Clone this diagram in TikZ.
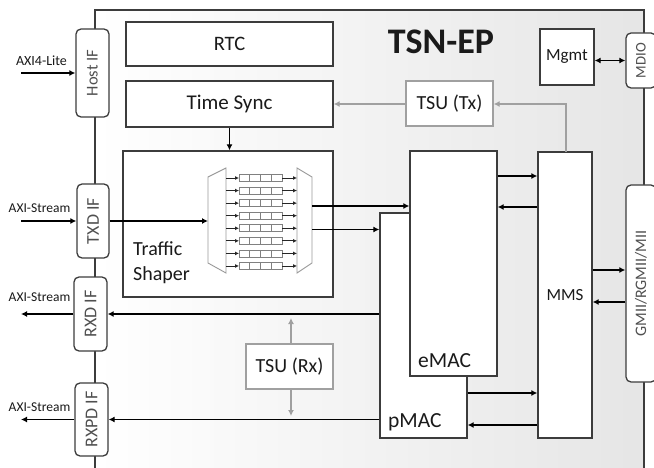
\documentclass[tikz,border=0pt]{standalone}
\usepackage{fontspec}
\setmainfont{Carlito}
\usetikzlibrary{arrows.meta}
\definecolor{boxc}{HTML}{3C3C3C}
\definecolor{grayc}{HTML}{A0A0A0}
\definecolor{ifc}{HTML}{505050}
\definecolor{txtc}{HTML}{1A1A1A}
\tikzset{
  fs/.style={font=\fontsize{#1}{#1}\selectfont},
  box/.style={draw=boxc, line width=1.3pt, fill=white, inner sep=0pt, text=txtc},
  ifbox/.style={box, rounded corners=5pt, text=ifc},
  graybox/.style={draw=grayc, line width=1.3pt, fill=white, inner sep=0pt, text=txtc},
  conn/.style={draw=black, line width=1.7pt, -{Latex[length=6pt,width=6pt]}},
  dconn/.style={draw=black, line width=1.7pt, {Latex[length=6pt,width=6pt]}-{Latex[length=6pt,width=6pt]}},
  gconn/.style={draw=grayc, line width=1.3pt, -{Latex[length=6pt,width=6pt]}},
  qarrow/.style={draw=black!85, line width=0.8pt, -{Latex[length=4pt,width=4pt]}},
  qbox/.style={draw=black!50, line width=0.8pt},
  mux/.style={draw=black!40, line width=0.9pt, fill=white},
  lbl/.style={inner sep=0pt, text=txtc}
}
\begin{document}
\begin{tikzpicture}[x=1pt,y=-1pt]
\useasboundingbox (0,0) rectangle (654,468);
\clip (0,0) rectangle (654,468);
\fill[white] (0,0) rectangle (654,468);
% frame
\fill[left color=white, right color=black!10] (95,10) rectangle (644,468);
\draw[draw=boxc, line width=1.3pt] (95,470) -- (95,10) -- (644,10) -- (644,470);

\node[lbl, font=\fontsize{36}{36}\selectfont\bfseries] (title) at (441,42) {TSN-EP};

% interface boxes
\node[ifbox, minimum width=33pt, minimum height=88pt, fs=16.5] (hostif) at (92.5,73) {\rotatebox{90}{Host IF}};
\node[ifbox, minimum width=32pt, minimum height=74pt, fs=18] (txdif) at (93,221) {\rotatebox{90}{TXD IF}};
\node[ifbox, minimum width=33pt, minimum height=74pt, fs=18] (rxdif) at (90.5,314) {\rotatebox{90}{RXD IF}};
\node[ifbox, minimum width=33pt, minimum height=73pt, fs=18] (rxpdif) at (91.5,419.5) {\rotatebox{90}{RXPD IF}};
\node[ifbox, minimum width=30pt, minimum height=55pt, fs=14.7] (mdio) at (641,60.5) {\rotatebox{90}{MDIO}};
\node[ifbox, minimum width=30pt, minimum height=197pt, fs=16] (gmii) at (641,283.5) {\rotatebox{90}{GMII/RGMII/MII}};

% blocks
\node[box, minimum width=207pt, minimum height=44pt, fs=20.5] (rtc) at (229.5,44) {RTC};
\node[box, minimum width=207pt, minimum height=46pt, fs=21] (tsync) at (229.5,104) {Time Sync};
\node[graybox, minimum width=87pt, minimum height=45pt, fs=20] (tsutx) at (449.5,103.5) {TSU (Tx)};
\node[box, minimum width=54pt, minimum height=56pt, fs=17] (mgmt) at (567,57) {Mgmt};
\node[box, minimum width=210pt, minimum height=146pt] (shaper) at (228,224) {};
\node[lbl, anchor=base west, fs=20] (tsa) at (133,255) {Traffic};
\node[lbl, anchor=base west, fs=20] (tsb) at (133,280) {Shaper};
\node[box, minimum width=87pt, minimum height=225pt] (pmac) at (423.5,325.5) {};
\node[box, minimum width=87pt, minimum height=225pt] (emac) at (453.5,263.5) {};
\node[lbl, anchor=base west, fs=21.5] (emact) at (418,367) {eMAC};
\node[lbl, anchor=base west, fs=21.5] (pmact) at (388,427) {pMAC};
\node[box, minimum width=54pt, minimum height=286pt, fs=17] (mms) at (565,295) {MMS};
\node[graybox, minimum width=87pt, minimum height=45pt, fs=20] (tsurx) at (289.5,366.5) {TSU (Rx)};

% multiplexer / queues
\draw[mux] (208,177) -- (226,168) -- (226,273) -- (208,263) -- cycle;
\draw[mux] (297,168) -- (312,177) -- (312,263) -- (297,273) -- cycle;
\foreach \i in {0,...,7} {
  \pgfmathsetmacro\yy{178+\i*12.57}
  \draw[qarrow] (226,\yy) -- (239,\yy);
  \draw[qbox, fill=white] (239,\yy-3.5) rectangle (282,\yy+3.5);
  \foreach \c in {249.75,260.5,271.25} \draw[qbox] (\c,\yy-3.5) -- (\c,\yy+3.5);
  \draw[qarrow] (282,\yy) -- (297,\yy);
}
\coordinate (muxin) at (208,221);
\coordinate (mo1) at (312,206);
\coordinate (mo2) at (312,229.5);

% external labels and arrows
\coordinate (hostin) at (21,73);
\coordinate (txdin) at (21,221);
\coordinate (rxdout) at (21,314);
\coordinate (rxpdout) at (21,419.5);
\node[lbl, fs=14] (axil) at (41.5,61) {AXI4-Lite};
\node[lbl, fs=13.5] (axs1) at (39.5,208) {AXI-Stream};
\node[lbl, fs=13.5] (axs2) at (39.5,297) {AXI-Stream};
\node[lbl, fs=13.5] (axs3) at (39.5,407) {AXI-Stream};
\draw[conn] (hostin) -- (hostif.west);
\draw[conn] (txdin) -- (txdif.west);
\draw[conn] (rxdif.west) -- (rxdout);
\draw[conn] (rxpdif.west) -- (rxpdout);

% internal connectors
\draw[conn] (txdif.east) -- (muxin);
\draw[conn] (tsync.south) -- (tsync.south |- shaper.north);
\draw[conn] (mo1) -- (emac.west |- mo1);
\draw[conn] (mo2) -- (pmac.west |- mo2);
\coordinate (y1) at (0,176);
\coordinate (y2) at (0,207);
\coordinate (y3) at (0,393);
\coordinate (y4) at (0,425);
\coordinate (y5) at (0,270);
\coordinate (y6) at (0,302);
\draw[conn] (emac.east |- y1) -- (mms.west |- y1);
\draw[conn] (mms.west |- y2) -- (emac.east |- y2);
\draw[conn] (pmac.east |- y3) -- (mms.west |- y3);
\draw[conn] (mms.west |- y4) -- (pmac.east |- y4);
\draw[conn] (mms.east |- y5) -- (gmii.west |- y5);
\draw[conn] (gmii.west |- y6) -- (mms.east |- y6);
\draw[dconn] (mgmt.east |- mdio.west) -- (mdio.west);
\draw[conn] (pmac.west |- rxdif.east) -- (rxdif.east);
\draw[conn] (pmac.west |- rxpdif.east) -- (rxpdif.east);

% gray timestamp connectors
\coordinate (tsucorner) at (566,104);
\draw[gconn] (566,152) -- (tsucorner) -- (tsutx.east |- tsucorner);
\draw[gconn] (tsutx.west |- tsync.east) -- (tsync.east);
\coordinate (rxup) at (291,318);
\coordinate (rxdn) at (291,416);
\draw[gconn] (tsurx.north -| rxup) -- (rxup);
\draw[gconn] (tsurx.south -| rxdn) -- (rxdn);
\end{tikzpicture}
\end{document}
